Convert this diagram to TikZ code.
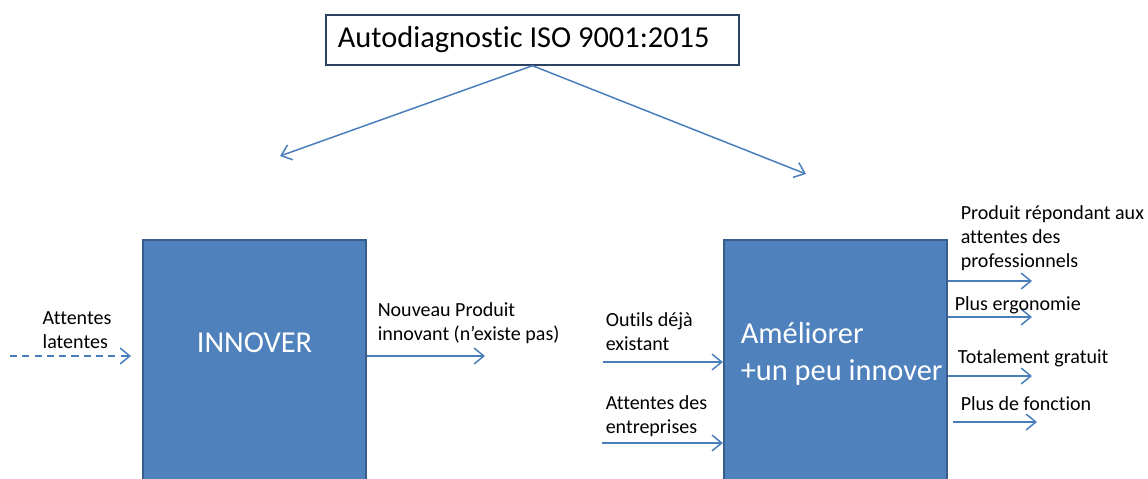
\documentclass[tikz,border=0pt]{standalone}
\usepackage{fontspec}
\setmainfont[Ligatures = NoCommon]{Carlito}
\usetikzlibrary{arrows.meta}
\usetikzlibrary{positioning}

\definecolor{boxblue}{HTML}{4F81BD}
\definecolor{boxedge}{HTML}{385D8A}
\definecolor{linkblue}{HTML}{4A7EBB}
\definecolor{titleedge}{HTML}{2C4263}

\begin{document}
\begin{tikzpicture}[x = 0.02cm, y = -0.02cm, line width = 0.85pt,
    flow/.style = {draw = linkblue, -{Straight Barb[length = 5.5pt, width = 9pt]}},
    bluebox/.style = {rectangle, draw = boxedge, fill = boxblue, line width = 1.3pt,
                      minimum width = 4.46cm, minimum height = 5.2cm, inner sep = 0pt},
    big/.style = {font = \fontsize{17.3}{21}\selectfont},
    lbl/.style = {anchor = base west, inner sep = 0pt, align = left,
                  font = \fontsize{11.4}{13.6}\selectfont}]

    \useasboundingbox (0,0) rectangle (1148,478);
    \clip (0,0) rectangle (1148,478);

    % title and the two ways
    \node (auto) at (532.5,40) [rectangle, draw = titleedge, line width = 0.8pt,
        minimum width = 8.26cm, minimum height = 1cm, big] {Autodiagnostic ISO 9001:2015\kern10pt};

    \coordinate (L) at (280,156);
    \coordinate (R) at (806,174);
    \draw[flow] (auto.south) -- (L);
    \draw[flow] (auto.south) -- (R);

    % the two blocks
    \node (innover) at (254.5,370) [bluebox] {};
    \node (amel) at (835.5,370) [bluebox] {};

    \node (innovertxt) at (254.5,352) [big, anchor = base, inner sep = 0pt, text = white] {INNOVER};
    \node (ameltxt) at (740,380) [big, anchor = base west, inner sep = 0pt, align = left,
        text = white] {Améliorer\\+un peu innover};

    % left block
    \coordinate (lat) at (10,356);
    \coordinate (latend) at (131,356);
    \coordinate (nouv) at (485,356);
    \draw[flow, dash pattern = on 4pt off 3pt] (lat) -- (latend);
    \draw[flow] (innover.east |- nouv) -- (nouv);

    \node (lbllat) at (42,348) [lbl] {Attentes\\latentes};
    \node (lblnouv) at (377,340) [lbl] {Nouveau Produit\\innovant (n’existe pas)};

    % right block, inputs
    \coordinate (outils) at (603,362);
    \coordinate (attent) at (602,443);
    \draw[flow] (outils) -- (outils -| amel.west);
    \draw[flow] (attent) -- (attent -| amel.west);

    \node (lbloutils) at (605,350) [lbl] {Outils déjà\\existant};
    \node (lblattent) at (605,433) [lbl] {Attentes des\\entreprises};

    % right block, outputs
    \coordinate (o1) at (1032,281);
    \coordinate (o2) at (1032,317);
    \coordinate (o3) at (1032,376);
    \coordinate (o4) at (1037,422);
    \draw[flow] (o1 -| amel.east) -- (o1);
    \draw[flow] (o2 -| amel.east) -- (o2);
    \draw[flow] (o3 -| amel.east) -- (o3);
    \draw[flow] ([xshift = 0.1cm] o4 -| amel.east) -- (o4);

    \node (lblprod) at (960,267) [lbl] {Produit répondant aux\\attentes des\\professionnels};
    \node (lblergo) at (954,310) [lbl] {Plus ergonomie};
    \node (lblgrat) at (957,363) [lbl] {Totalement gratuit};
    \node (lblfonc) at (960,410) [lbl] {Plus de fonction};

\end{tikzpicture}
\end{document}
